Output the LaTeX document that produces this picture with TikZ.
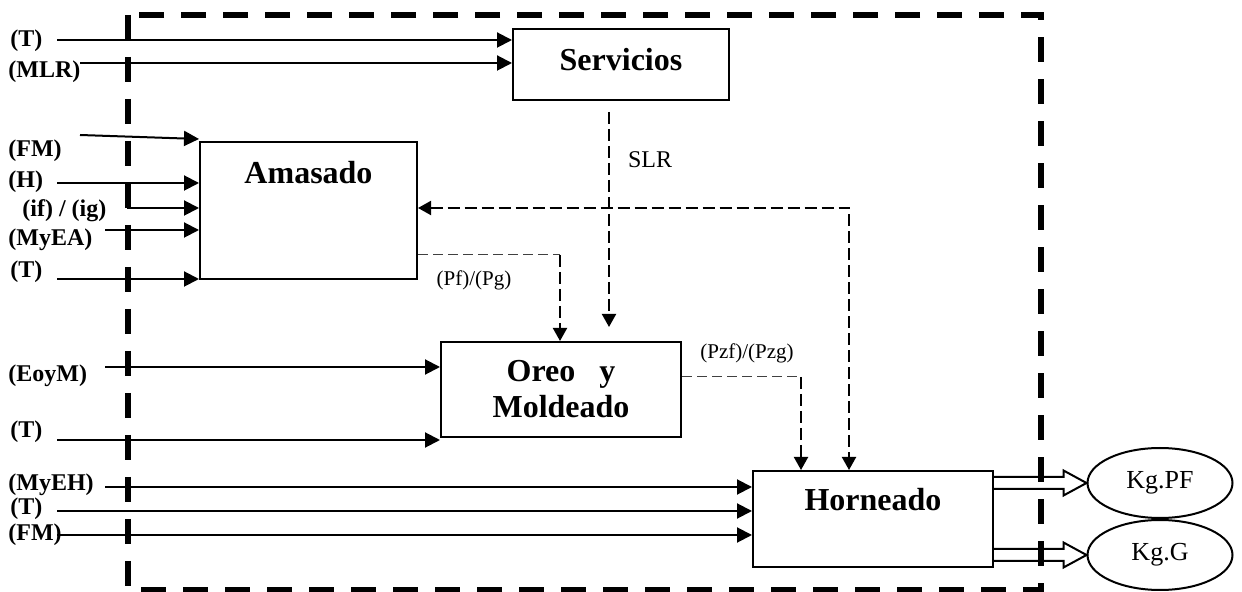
\documentclass[tikz,border=0pt]{standalone}
\usepackage{fontspec}
\setmainfont{Liberation Serif}
\usetikzlibrary{arrows.meta,calc,shapes.geometric}
\begin{document}
\begin{tikzpicture}[x=0.5pt,y=-0.5pt,
  box/.style={draw,line width=1pt,rectangle,inner sep=0pt},
  big/.style={font=\fontsize{16}{18}\selectfont\bfseries,inner sep=0pt},
  lab/.style={font=\fontsize{12}{14}\selectfont\bfseries,inner sep=0pt,anchor=west},
  small/.style={font=\fontsize{10.5}{12}\selectfont,inner sep=0pt},
  arr/.style={line width=1pt,-{Triangle[length=7.5pt,width=7.5pt]}},
  frame/.style={line width=3pt,dash pattern=on 12.5pt off 8.5pt},
  dasharr/.style={line width=1pt,dash pattern=on 6pt off 2.5pt,-{Triangle[length=6.5pt,width=7pt]}},
  dashboth/.style={line width=1pt,dash pattern=on 6pt off 2.5pt,{Triangle[length=6.5pt,width=7pt]}-{Triangle[length=6.5pt,width=7pt]}},
  thindash/.style={line width=0.5pt,dash pattern=on 5pt off 2.5pt,draw=black!75},
  hollow/.style={line width=1pt,fill=white},
  oval/.style={draw,ellipse,line width=1pt,inner sep=0pt,minimum width=72.5pt,minimum height=35pt,font=\fontsize{13}{15}\selectfont}
]
\useasboundingbox (0,0) rectangle (1242,592);

% boxes
\node[box,minimum width=108pt,minimum height=35.5pt] (serv) at (621,64.5) {};
\node[big] (servt) at (621,60) {Servicios};
\node[box,minimum width=108.5pt,minimum height=68.5pt] (ama) at (308.5,210.5) {};
\node[big] (amat) at (308.5,173) {Amasado};
\node[box,minimum width=120pt,minimum height=47.5pt,align=center,font=\fontsize{16}{18}\selectfont\bfseries] (oreo) at (561,389.5) {Oreo\ \ \ y\\Moldeado};
\node[box,minimum width=120pt,minimum height=48pt] (hor) at (873,519) {};
\node[big] (hort) at (873,500) {Horneado};
\node[oval] (pf) at (1160,483) {Kg.PF};
\node[oval] (kg) at (1160,555) {Kg.G};

% labels
\node[lab] (l1) at (10,41) {(T)};
\node[lab] (l2) at (8,72) {(MLR)};
\node[lab] (l3) at (8,151) {(FM)};
\node[lab] (l4) at (8,182) {(H)};
\node[lab] (l5) at (22,211) {(if) / (ig)};
\node[lab] (l6) at (8,240) {(MyEA)};
\node[lab] (l7) at (10,272) {(T)};
\node[lab] (l8) at (8,376) {(EoyM)};
\node[lab] (l9) at (10,432) {(T)};
\node[lab] (l10) at (8,485) {(MyEH)};
\node[lab] (l11) at (10,509) {(T)};
\node[lab] (l12) at (8,535) {(FM)};
\node[small] (pfpg) at (474,280) {(Pf)/(Pg)};
\node[small] (pzf) at (747,353) {(Pzf)/(Pzg)};
\node[font=\fontsize{12}{14}\selectfont,inner sep=0pt] (slr) at (650,160) {SLR};

% inputs
\coordinate (s1) at (57,40);   \draw[arr] (s1) -- (s1 -| serv.west);
\coordinate (s2) at (80,63);   \draw[arr] (s2) -- (s2 -| serv.west);
\coordinate (a1) at (80,135);  \draw[arr] (a1) -- (ama.west |- 0,139);
\coordinate (hS) at (57,183);  \draw[arr] (hS) -- (hS -| ama.west);
\coordinate (ifS) at (128,183); \draw[arr] (ifS) |- (ama.west |- 0,208);
\coordinate (myeaS) at (105,230); \draw[arr] (myeaS) -- (myeaS -| ama.west);
\coordinate (t2S) at (57,279); \draw[arr] (t2S) -- (t2S -| ama.west);
\coordinate (eoyS) at (105,367); \draw[arr] (eoyS) -- (eoyS -| oreo.west);
\coordinate (t3S) at (57,440); \draw[arr] (t3S) -- (t3S -| oreo.west);
\coordinate (myehS) at (105,487); \draw[arr] (myehS) -- (myehS -| hor.west);
\coordinate (t4S) at (57,511); \draw[arr] (t4S) -- (t4S -| hor.west);
\coordinate (fm2S) at (57,535); \draw[arr] (fm2S) -- (fm2S -| hor.west);

% dashed flows
\coordinate (c1) at (560,255);
\draw[thindash] (ama.east |- c1) -- (c1);
\draw[dasharr] (c1) -- (c1 |- oreo.north);
\coordinate (slrA) at (609,112); \coordinate (slrB) at (609,327);
\draw[dasharr] (slrA) -- (slrB);
\coordinate (c2) at (849,208);
\draw[dashboth] (ama.east |- c2) -- (c2) -- (c2 |- hor.north);
\coordinate (c3) at (801,377);
\draw[thindash] (oreo.east |- c3) -- (c3);
\draw[dasharr] (c3) -- (c3 |- hor.north);

% outputs
\coordinate (o1) at (hor.east |- pf.west);
\draw[hollow] ($(o1)+(0,-6)$) -- ($(pf.west)+(-23,-6)$) -- ($(pf.west)+(-23,-12.5)$) -- (pf.west) -- ($(pf.west)+(-23,12.5)$) -- ($(pf.west)+(-23,6)$) -- ($(o1)+(0,6)$);
\coordinate (o2) at (hor.east |- kg.west);
\draw[hollow] ($(o2)+(0,-6)$) -- ($(kg.west)+(-23,-6)$) -- ($(kg.west)+(-23,-12.5)$) -- (kg.west) -- ($(kg.west)+(-23,12.5)$) -- ($(kg.west)+(-23,6)$) -- ($(o2)+(0,6)$);

% frame
\coordinate (fTL) at (128,15); \coordinate (fBR) at (1041,590);
\draw[frame] (fTL) rectangle (fBR);
\end{tikzpicture}
\end{document}
